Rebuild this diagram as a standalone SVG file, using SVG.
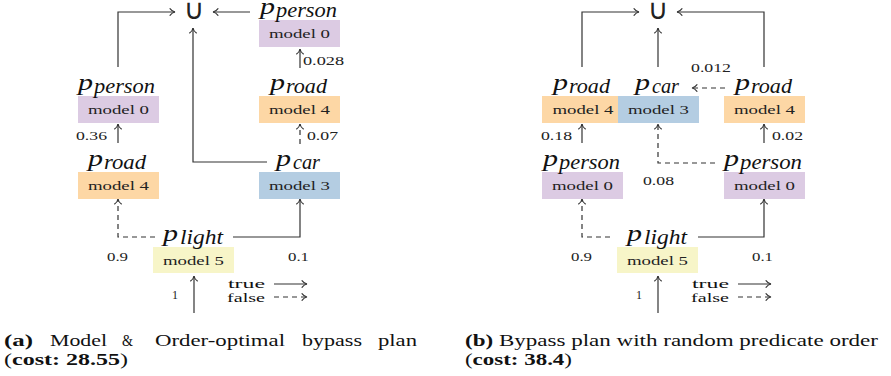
<svg xmlns="http://www.w3.org/2000/svg" width="891" height="376" viewBox="0 0 891 376">
<style>
.bg{fill:#fff}
.ln{fill:none;stroke:#333;stroke-width:1.2}
.ds{stroke-dasharray:5 4}
.pu{fill:#dccbe3}.or{fill:#fdd7a5}.bl{fill:#b4cde2}.ye{fill:#f7f5c8}
.mt{font-family:"Liberation Serif",serif;font-size:12.5px;fill:#222;text-anchor:middle}
.pm{font-family:"Liberation Serif",serif;font-style:italic;font-size:24px;fill:#111}
.ps{font-family:"Liberation Serif",serif;font-style:italic;font-size:20px;fill:#111}
.num{font-family:"Liberation Serif",serif;font-size:12px;fill:#222}
.lg{font-family:"Liberation Serif",serif;font-size:13px;fill:#111}
.cap{font-family:"Liberation Serif",serif;font-size:16px;fill:#111}
.b{font-weight:bold}
.cup{font-family:"DejaVu Sans",sans-serif;font-size:28px;fill:#222;text-anchor:middle}
</style>
<defs>
<marker id="ah" markerUnits="userSpaceOnUse" markerWidth="12" markerHeight="12" viewBox="-6 -6 12 12" refX="0" refY="0" orient="auto" overflow="visible">
<path d="M-5,-3.4 C-3.5,-1.3 -1.6,-0.3 0,0 C-1.6,0.3 -3.5,1.3 -5,3.4" fill="none" stroke="#333" stroke-width="1.1" stroke-dasharray="none" stroke-linecap="round"/>
</marker>
</defs>
<rect class="bg" x="0" y="0" width="891" height="376"/>

<!-- connectors -->
<g id="connectors">
<path class="ln" d="M118,67 V12 H175" marker-end="url(#ah)"/>
<path class="ln" d="M250,12 H213" marker-end="url(#ah)"/>
<path class="ln" d="M267,162 H193 V28" marker-end="url(#ah)"/>
<path class="ln" d="M300,68 V49" marker-end="url(#ah)"/>
<path class="ln ds" d="M300,144 V124" marker-end="url(#ah)"/>
<path class="ln" d="M118,143 V124" marker-end="url(#ah)"/>
<path class="ln ds" d="M155,237 H118 V199" marker-end="url(#ah)"/>
<path class="ln" d="M233,237 H300 V199" marker-end="url(#ah)"/>
<path class="ln" d="M194,313 V276" marker-end="url(#ah)"/>
<path class="ln" d="M274,284 H307" marker-end="url(#ah)"/>
<path class="ln ds" d="M274,297 H307" marker-end="url(#ah)"/>

<path class="ln" d="M582,67 V12 H639" marker-end="url(#ah)"/>
<path class="ln" d="M764,67 V12 H677" marker-end="url(#ah)"/>
<path class="ln" d="M658,67 V28" marker-end="url(#ah)"/>
<path class="ln ds" d="M725,88 H692" marker-end="url(#ah)"/>
<path class="ln" d="M582,143 V124" marker-end="url(#ah)"/>
<path class="ln ds" d="M715,163 H658 V124" marker-end="url(#ah)"/>
<path class="ln" d="M764,143 V124" marker-end="url(#ah)"/>
<path class="ln ds" d="M610,237 H582 V199" marker-end="url(#ah)"/>
<path class="ln" d="M698,237 H764 V199" marker-end="url(#ah)"/>
<path class="ln" d="M658,313 V276" marker-end="url(#ah)"/>
<path class="ln" d="M738,284 H771" marker-end="url(#ah)"/>
<path class="ln ds" d="M738,297 H771" marker-end="url(#ah)"/>

<text class="num" x="303" y="65" textLength="41" lengthAdjust="spacingAndGlyphs">0.028</text>
<text class="num" x="307" y="140" textLength="31" lengthAdjust="spacingAndGlyphs">0.07</text>
<text class="num" x="76" y="140" textLength="31" lengthAdjust="spacingAndGlyphs">0.36</text>
<text class="num" x="107" y="261" textLength="21" lengthAdjust="spacingAndGlyphs">0.9</text>
<text class="num" x="288" y="261" textLength="21" lengthAdjust="spacingAndGlyphs">0.1</text>
<text class="num" x="172" y="299">1</text>

<text class="num" x="691" y="72" textLength="40" lengthAdjust="spacingAndGlyphs">0.012</text>
<text class="num" x="541" y="140" textLength="31" lengthAdjust="spacingAndGlyphs">0.18</text>
<text class="num" x="643" y="185" textLength="31" lengthAdjust="spacingAndGlyphs">0.08</text>
<text class="num" x="772" y="140" textLength="31" lengthAdjust="spacingAndGlyphs">0.02</text>
<text class="num" x="571" y="261" textLength="21" lengthAdjust="spacingAndGlyphs">0.9</text>
<text class="num" x="752" y="261" textLength="21" lengthAdjust="spacingAndGlyphs">0.1</text>
<text class="num" x="636" y="299">1</text>
</g>

<!-- legends -->
<g id="legend-a">
<text class="lg" x="228" y="288" textLength="37" lengthAdjust="spacingAndGlyphs">true</text>
<text class="lg" x="227" y="302" textLength="38" lengthAdjust="spacingAndGlyphs">false</text>
</g>
<g id="legend-b">
<text class="lg" x="692" y="288" textLength="37" lengthAdjust="spacingAndGlyphs">true</text>
<text class="lg" x="691" y="302" textLength="38" lengthAdjust="spacingAndGlyphs">false</text>
</g>

<!-- panel a nodes -->
<g id="a-union"><text class="cup" x="194" y="19">∪</text></g>
<g id="a-person-top">
<rect class="pu" x="259" y="20" width="81" height="27"/>
<text class="mt" x="299.5" y="38" textLength="61" lengthAdjust="spacingAndGlyphs">model 0</text>
<text class="pm" x="260" y="14" textLength="15" lengthAdjust="spacingAndGlyphs">p</text>
<text class="ps" x="276" y="17" textLength="61" lengthAdjust="spacingAndGlyphs">person</text>
</g>
<g id="a-road-right">
<rect class="or" x="259" y="96" width="81" height="27"/>
<text class="mt" x="299.5" y="114" textLength="61" lengthAdjust="spacingAndGlyphs">model 4</text>
<text class="pm" x="270" y="90" textLength="15" lengthAdjust="spacingAndGlyphs">p</text>
<text class="ps" x="286" y="93" textLength="41" lengthAdjust="spacingAndGlyphs">road</text>
</g>
<g id="a-car">
<rect class="bl" x="259" y="172" width="81" height="27"/>
<text class="mt" x="299.5" y="190" textLength="61" lengthAdjust="spacingAndGlyphs">model 3</text>
<text class="pm" x="276" y="166" textLength="15" lengthAdjust="spacingAndGlyphs">p</text>
<text class="ps" x="293" y="169" textLength="27" lengthAdjust="spacingAndGlyphs">car</text>
</g>
<g id="a-person-left">
<rect class="pu" x="78" y="96" width="81" height="27"/>
<text class="mt" x="118.5" y="114" textLength="61" lengthAdjust="spacingAndGlyphs">model 0</text>
<text class="pm" x="78" y="90" textLength="15" lengthAdjust="spacingAndGlyphs">p</text>
<text class="ps" x="94" y="93" textLength="61" lengthAdjust="spacingAndGlyphs">person</text>
</g>
<g id="a-road-left">
<rect class="or" x="78" y="172" width="81" height="27"/>
<text class="mt" x="118.5" y="190" textLength="61" lengthAdjust="spacingAndGlyphs">model 4</text>
<text class="pm" x="88" y="166" textLength="15" lengthAdjust="spacingAndGlyphs">p</text>
<text class="ps" x="104" y="169" textLength="42" lengthAdjust="spacingAndGlyphs">road</text>
</g>
<g id="a-light">
<rect class="ye" x="153" y="247" width="81" height="26"/>
<text class="mt" x="193.5" y="265" textLength="61" lengthAdjust="spacingAndGlyphs">model 5</text>
<text class="pm" x="163" y="241" textLength="15" lengthAdjust="spacingAndGlyphs">p</text>
<text class="ps" x="180" y="244" textLength="43" lengthAdjust="spacingAndGlyphs">light</text>
</g>

<!-- panel b nodes -->
<g id="b-union"><text class="cup" x="658" y="19">∪</text></g>
<g id="b-road-left">
<rect class="or" x="542" y="96" width="81" height="27"/>
<text class="mt" x="583" y="114" textLength="61" lengthAdjust="spacingAndGlyphs">model 4</text>
<text class="pm" x="553" y="90" textLength="15" lengthAdjust="spacingAndGlyphs">p</text>
<text class="ps" x="569" y="93" textLength="41" lengthAdjust="spacingAndGlyphs">road</text>
</g>
<g id="b-car">
<rect class="bl" x="618" y="96" width="81" height="27"/>
<text class="mt" x="658.5" y="114" textLength="61" lengthAdjust="spacingAndGlyphs">model 3</text>
<text class="pm" x="635" y="90" textLength="15" lengthAdjust="spacingAndGlyphs">p</text>
<text class="ps" x="652" y="93" textLength="27" lengthAdjust="spacingAndGlyphs">car</text>
</g>
<g id="b-road-right">
<rect class="or" x="724" y="96" width="81" height="27"/>
<text class="mt" x="764.5" y="114" textLength="61" lengthAdjust="spacingAndGlyphs">model 4</text>
<text class="pm" x="735" y="90" textLength="15" lengthAdjust="spacingAndGlyphs">p</text>
<text class="ps" x="751" y="93" textLength="41" lengthAdjust="spacingAndGlyphs">road</text>
</g>
<g id="b-person-left">
<rect class="pu" x="542" y="172" width="81" height="27"/>
<text class="mt" x="582.5" y="190" textLength="61" lengthAdjust="spacingAndGlyphs">model 0</text>
<text class="pm" x="543" y="166" textLength="15" lengthAdjust="spacingAndGlyphs">p</text>
<text class="ps" x="559" y="169" textLength="61" lengthAdjust="spacingAndGlyphs">person</text>
</g>
<g id="b-person-right">
<rect class="pu" x="724" y="172" width="81" height="27"/>
<text class="mt" x="764.5" y="190" textLength="61" lengthAdjust="spacingAndGlyphs">model 0</text>
<text class="pm" x="724" y="166" textLength="15" lengthAdjust="spacingAndGlyphs">p</text>
<text class="ps" x="740" y="169" textLength="62" lengthAdjust="spacingAndGlyphs">person</text>
</g>
<g id="b-light">
<rect class="ye" x="617" y="247" width="81" height="26"/>
<text class="mt" x="657.5" y="265" textLength="61" lengthAdjust="spacingAndGlyphs">model 5</text>
<text class="pm" x="627" y="241" textLength="15" lengthAdjust="spacingAndGlyphs">p</text>
<text class="ps" x="644" y="244" textLength="43" lengthAdjust="spacingAndGlyphs">light</text>
</g>

<!-- captions -->
<g id="caption-a">
<text class="cap b" x="4" y="346" textLength="29" lengthAdjust="spacingAndGlyphs">(a)</text>
<text class="cap" x="50" y="346" textLength="57" lengthAdjust="spacingAndGlyphs">Model</text>
<text class="cap" x="122" y="346" textLength="11" lengthAdjust="spacingAndGlyphs">&amp;</text>
<text class="cap" x="155" y="346" textLength="130" lengthAdjust="spacingAndGlyphs">Order-optimal</text>
<text class="cap" x="302" y="346" textLength="60" lengthAdjust="spacingAndGlyphs">bypass</text>
<text class="cap" x="378" y="346" textLength="39" lengthAdjust="spacingAndGlyphs">plan</text>
<text class="cap" x="4" y="365" textLength="124" lengthAdjust="spacingAndGlyphs">(<tspan class="b">cost: 28.55</tspan>)</text>
</g>
<g id="caption-b">
<text class="cap" x="465" y="346" textLength="413" lengthAdjust="spacingAndGlyphs"><tspan class="b">(b)</tspan> Bypass plan with random predicate order</text>
<text class="cap" x="465" y="365" textLength="107" lengthAdjust="spacingAndGlyphs">(<tspan class="b">cost: 38.4</tspan>)</text>
</g>
</svg>
